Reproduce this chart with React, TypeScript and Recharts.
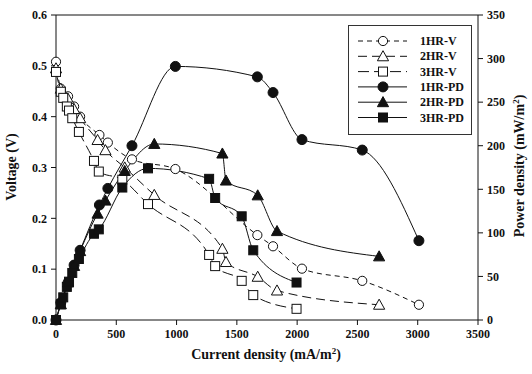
import React from "react";
import {
  ComposedChart,
  Line,
  XAxis,
  YAxis,
  Label,
  ReferenceLine,
} from "recharts";

// current density (mA/m2), one list per run
const hr1Current = [0, 40, 100, 150, 200, 360, 430, 630, 990, 1670, 1800, 2040, 2540, 3010];
const hr1Voltage = [0.508, 0.455, 0.44, 0.42, 0.4, 0.364, 0.349, 0.316, 0.297, 0.167, 0.145, 0.101, 0.077, 0.03];
const hr1Power = [0, 20, 43, 63, 80, 132, 151, 200, 291, 279, 261, 207, 195, 91];

const hr2Current = [0, 40, 100, 150, 200, 345, 410, 570, 815, 1380, 1410, 1673, 1833, 2680];
const hr2Voltage = [0.495, 0.455, 0.435, 0.415, 0.397, 0.354, 0.334, 0.3, 0.246, 0.14, 0.114, 0.085, 0.058, 0.03];
const hr2Power = [0, 18, 43, 62, 79, 122, 137, 171, 202, 191, 160, 143, 102, 73];

const hr3Current = [0, 40, 60, 90, 108, 135, 190, 315, 355, 550, 763, 1270, 1320, 1540, 1636, 1995];
const hr3Voltage = [0.488, 0.449, 0.437, 0.42, 0.412, 0.397, 0.37, 0.313, 0.292, 0.276, 0.228, 0.128, 0.106, 0.077, 0.049, 0.022];
const hr3Power = [0, 18, 26, 38, 44, 54, 70, 99, 104, 152, 174, 162, 140, 119, 80, 43];

const xTicks = [0, 500, 1000, 1500, 2000, 2500, 3000, 3500];
const vTicks = [0, 0.1, 0.2, 0.3, 0.4, 0.5, 0.6];
const pdTicks = [0, 50, 100, 150, 200, 250, 300, 350];

const legendNames = ["1HR-V", "2HR-V", "3HR-V", "1HR-PD", "2HR-PD", "3HR-PD"];

const FONT = "'Liberation Serif', 'Times New Roman', serif";
const INK = "#111";

const toPoints = (xs: number[], ys: number[]) => xs.map((x, i) => ({ x, y: ys[i] }));

type Shape = "circle" | "triangle" | "square";

function Marker({ cx, cy, shape, filled }: { cx: number; cy: number; shape: Shape; filled: boolean }) {
  const fill = filled ? INK : "#fff";
  if (shape === "circle") {
    return <circle cx={cx} cy={cy} r={filled ? 5 : 4.6} fill={fill} stroke={INK} strokeWidth={1} />;
  }
  if (shape === "triangle") {
    const s = 5.6;
    return (
      <polygon
        points={`${cx},${cy - s} ${cx + s},${cy + s * 0.8} ${cx - s},${cy + s * 0.8}`}
        fill={fill}
        stroke={INK}
        strokeWidth={1}
      />
    );
  }
  return <rect x={cx - 4.5} y={cy - 4.5} width={9} height={9} fill={fill} stroke={INK} strokeWidth={1} />;
}

const dotFor = (name: string, shape: Shape, filled: boolean) => (props: any) => {
  const { cx, cy, index } = props;
  if (cx == null || cy == null) return <g key={`${name}-${index}`} />;
  return <Marker key={`${name}-${index}`} cx={cx} cy={cy} shape={shape} filled={filled} />;
};

const series = [
  { name: "1HR-V", data: toPoints(hr1Current, hr1Voltage), axis: "v", shape: "circle" as Shape, filled: false, dash: "5 4" },
  { name: "2HR-V", data: toPoints(hr2Current, hr2Voltage), axis: "v", shape: "triangle" as Shape, filled: false, dash: "9 5" },
  { name: "3HR-V", data: toPoints(hr3Current, hr3Voltage), axis: "v", shape: "square" as Shape, filled: false, dash: "11 5" },
  { name: "1HR-PD", data: toPoints(hr1Current, hr1Power), axis: "pd", shape: "circle" as Shape, filled: true, dash: undefined },
  { name: "2HR-PD", data: toPoints(hr2Current, hr2Power), axis: "pd", shape: "triangle" as Shape, filled: true, dash: undefined },
  { name: "3HR-PD", data: toPoints(hr3Current, hr3Power), axis: "pd", shape: "square" as Shape, filled: true, dash: undefined },
];

function LegendBox() {
  return (
    <svg width={124} height={110} style={{ position: "absolute", left: 348, top: 25, display: "block" }}>
      <rect x={0.5} y={0.5} width={123} height={109} fill="#fff" stroke="#333" strokeWidth={1} />
      {legendNames.map((name, i) => {
        const s = series[i];
        const y = 16 + i * 15.3;
        return (
          <g key={name}>
            <line x1={10} x2={59} y1={y} y2={y} stroke={INK} strokeWidth={1} strokeDasharray={s.dash} />
            <Marker cx={35} cy={y} shape={s.shape} filled={s.filled} />
            <text x={72} y={y + 4} fontFamily={FONT} fontWeight="bold" fontSize={12} fill={INK}>
              {name}
            </text>
          </g>
        );
      })}
    </svg>
  );
}

const tickStyle = { fontFamily: FONT, fontWeight: "bold" as const, fontSize: 12, fill: INK };

export default function App() {
  return (
    <div style={{ position: "absolute", left: 0, top: 0, width: 532, height: 374 }}>
      <ComposedChart width={532} height={374} margin={{ top: 15, right: 0, bottom: 0, left: 0 }}>
        <XAxis
          dataKey="x"
          type="number"
          domain={[0, 3500]}
          ticks={xTicks}
          allowDuplicatedCategory={false}
          height={54}
          tickSize={5}
          tickMargin={4}
          tick={tickStyle}
          stroke={INK}
        >
          <Label
            content={() => (
              <text x={266} y={359} textAnchor="middle" fontFamily={FONT} fontWeight="bold" fontSize={14} fill={INK}>
                <tspan>Current density (mA/m</tspan>
                <tspan dy={-5} fontSize={9}>2</tspan>
                <tspan dy={5}>)</tspan>
              </text>
            )}
          />
        </XAxis>
        <YAxis
          yAxisId="v"
          domain={[0, 0.6]}
          ticks={vTicks}
          width={56}
          tickSize={5}
          tickMargin={4}
          tick={tickStyle}
          tickFormatter={(v: number) => v.toFixed(1)}
          stroke={INK}
        >
          <Label
            content={() => (
              <text
                x={16}
                y={167}
                transform="rotate(-90 16 167)"
                textAnchor="middle"
                fontFamily={FONT}
                fontWeight="bold"
                fontSize={14}
                fill={INK}
              >
                Voltage (V)
              </text>
            )}
          />
        </YAxis>
        <YAxis
          yAxisId="pd"
          orientation="right"
          domain={[0, 350]}
          ticks={pdTicks}
          width={54}
          tickSize={5}
          tickMargin={4}
          tick={tickStyle}
          stroke={INK}
        >
          <Label
            content={() => (
              <text
                x={524}
                y={166}
                transform="rotate(-90 524 166)"
                textAnchor="middle"
                fontFamily={FONT}
                fontWeight="bold"
                fontSize={14}
                fill={INK}
              >
                <tspan>Power density (mW/m</tspan>
                <tspan dy={-5} fontSize={9}>2</tspan>
                <tspan dy={5}>)</tspan>
              </text>
            )}
          />
        </YAxis>
        <ReferenceLine yAxisId="v" y={0.6} stroke={INK} strokeWidth={1} />
        {series.map((s) => (
          <Line
            key={s.name}
            name={s.name}
            data={s.data}
            dataKey="y"
            yAxisId={s.axis}
            type="monotone"
            stroke={INK}
            strokeWidth={1}
            strokeDasharray={s.dash}
            dot={dotFor(s.name, s.shape, s.filled)}
            activeDot={false}
            isAnimationActive={false}
          />
        ))}
      </ComposedChart>
      <LegendBox />
    </div>
  );
}
